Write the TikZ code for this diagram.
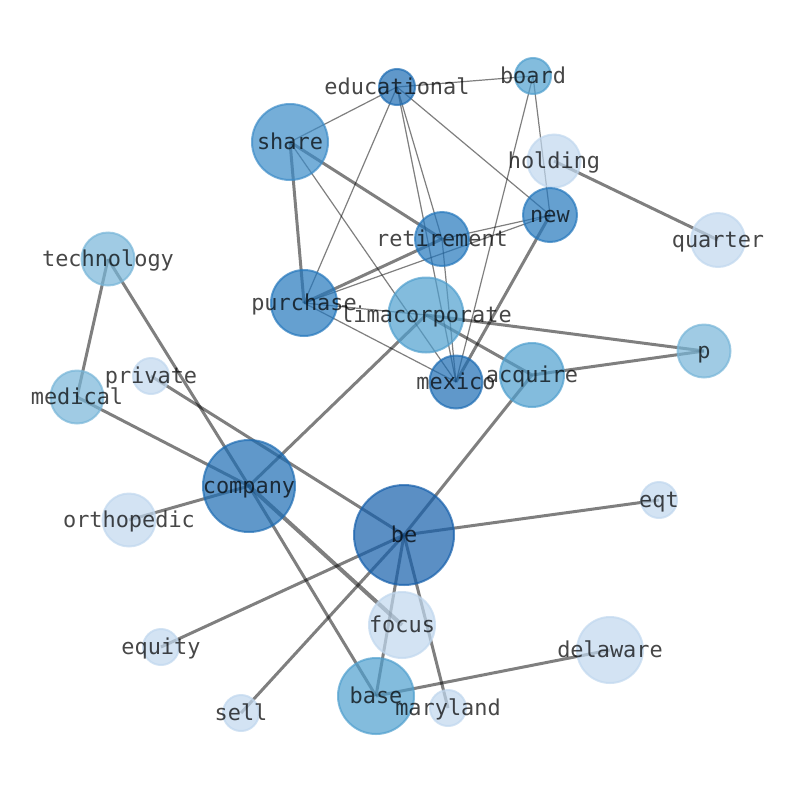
\documentclass[tikz,border=0pt]{standalone}
\usepackage{fontspec}
\newfontfamily\lblfont{DejaVu Sans Mono}

\definecolor{blA}{RGB}{21,95,171}
\definecolor{blB}{RGB}{29,108,179}
\definecolor{blC}{RGB}{36,119,188}
\definecolor{blD}{RGB}{59,139,199}
\definecolor{blE}{RGB}{79,159,206}
\definecolor{blF}{RGB}{119,181,216}
\definecolor{blG}{RGB}{192,215,238}

\pgfdeclarelayer{bg}
\pgfsetlayers{bg,main}

\tikzset{
	bub/.style={circle, inner sep=0pt, fill=#1, draw=#1, fill opacity=0.7, draw opacity=0.7, line width=2pt},
	lbl/.style={font=\lblfont\fontsize{21.9}{24}\selectfont, text=black, text opacity=0.72, inner sep=0pt, text height=17pt, text depth=3pt},
	weak/.style={draw=black, draw opacity=0.5, line width=1.2pt},
	strong/.style={draw=black, draw opacity=0.5, line width=3pt},
	stronger/.style={draw=black, draw opacity=0.5, line width=4pt}
}

\begin{document}
\begin{tikzpicture}[x=1pt, y=-1pt]
\useasboundingbox (0,0) rectangle (794,790);

%draw nodes
			\node[bub=blB, minimum size=36pt, label={[lbl]center:educational}] (educational) at (397,87) {};
			\node[bub=blE, minimum size=36pt, label={[lbl]center:board}] (board) at (533,76) {};
			\node[bub=blD, minimum size=76pt, label={[lbl]center:share}] (share) at (290,142) {};
			\node[bub=blG, minimum size=53pt, label={[lbl]center:holding}] (holding) at (554,161) {};
			\node[bub=blC, minimum size=54pt, label={[lbl]center:new}] (new) at (550,215) {};
			\node[bub=blC, minimum size=54pt, label={[lbl]center:retirement}] (retirement) at (442,239) {};
			\node[bub=blG, minimum size=54pt, label={[lbl]center:quarter}] (quarter) at (718,240) {};
			\node[bub=blF, minimum size=53pt, label={[lbl]center:technology}] (technology) at (108,259) {};
			\node[bub=blC, minimum size=66pt, label={[lbl]center:purchase}] (purchase) at (304,303) {};
			\node[bub=blE, minimum size=75pt, label={[lbl]center:limacorporate}] (limacorporate) at (426,315) {};
			\node[bub=blF, minimum size=53pt, label={[lbl]center:p}] (p) at (704,351) {};
			\node[bub=blG, minimum size=36pt, label={[lbl]center:private}] (private) at (151,376) {};
			\node[bub=blB, minimum size=53pt, label={[lbl]center:mexico}] (mexico) at (456,382) {};
			\node[bub=blE, minimum size=64pt, label={[lbl]center:acquire}] (acquire) at (532,375) {};
			\node[bub=blF, minimum size=53pt, label={[lbl]center:medical}] (medical) at (77,397) {};
			\node[bub=blB, minimum size=92pt, label={[lbl]center:company}] (company) at (249,486) {};
			\node[bub=blA, minimum size=100pt, label={[lbl]center:be}] (be) at (404,535) {};
			\node[bub=blG, minimum size=53pt, label={[lbl]center:orthopedic}] (orthopedic) at (129,520) {};
			\node[bub=blG, minimum size=36pt, label={[lbl]center:eqt}] (eqt) at (659,500) {};
			\node[bub=blG, minimum size=66pt, label={[lbl]center:focus}] (focus) at (402,625) {};
			\node[bub=blG, minimum size=66pt, label={[lbl]center:delaware}] (delaware) at (610,650) {};
			\node[bub=blG, minimum size=36pt, label={[lbl]center:equity}] (equity) at (161,647) {};
			\node[bub=blE, minimum size=76pt, label={[lbl]center:base}] (base) at (376,696) {};
			\node[bub=blG, minimum size=36pt, label={[lbl]center:sell}] (sell) at (241,713) {};
			\node[bub=blG, minimum size=36pt, label={[lbl]center:maryland}] (maryland) at (448,708) {};

%draw edges
			\begin{pgfonlayer}{bg}
			\draw[weak] (educational.center) -- (board.center);
			\draw[weak] (educational.center) -- (share.center);
			\draw[weak] (educational.center) -- (purchase.center);
			\draw[weak] (educational.center) -- (retirement.center);
			\draw[weak] (educational.center) -- (mexico.center);
			\draw[weak] (educational.center) -- (new.center);
			\draw[weak] (board.center) -- (new.center);
			\draw[weak] (board.center) -- (mexico.center);
			\draw[weak] (share.center) -- (mexico.center);
			\draw[weak] (new.center) -- (retirement.center);
			\draw[weak] (new.center) -- (purchase.center);
			\draw[weak] (purchase.center) -- (mexico.center);
			\draw[weak] (purchase.center) -- (limacorporate.center);
			\draw[weak] (retirement.center) -- (mexico.center);

			\draw[strong] (share.center) -- (purchase.center);
			\draw[strong] (share.center) -- (retirement.center);
			\draw[strong] (retirement.center) -- (purchase.center);
			\draw[strong] (new.center) -- (mexico.center);
			\draw[strong] (holding.center) -- (quarter.center);
			\draw[strong] (limacorporate.center) -- (p.center);
			\draw[strong] (acquire.center) -- (p.center);
			\draw[strong] (limacorporate.center) -- (acquire.center);
			\draw[strong] (limacorporate.center) -- (company.center);
			\draw[strong] (technology.center) -- (medical.center);
			\draw[strong] (technology.center) -- (company.center);
			\draw[strong] (company.center) -- (base.center);
			\draw[strong] (medical.center) -- (company.center);
			\draw[strong] (orthopedic.center) -- (company.center);
			\draw[stronger] (company.center) -- (focus.center);
			\draw[strong] (private.center) -- (be.center);
			\draw[strong] (be.center) -- (acquire.center);
			\draw[strong] (be.center) -- (eqt.center);
			\draw[strong] (be.center) -- (equity.center);
			\draw[strong] (be.center) -- (sell.center);
			\draw[strong] (be.center) -- (base.center);
			\draw[strong] (be.center) -- (maryland.center);
			\draw[strong] (base.center) -- (delaware.center);
			\end{pgfonlayer}

\end{tikzpicture}
\end{document}
